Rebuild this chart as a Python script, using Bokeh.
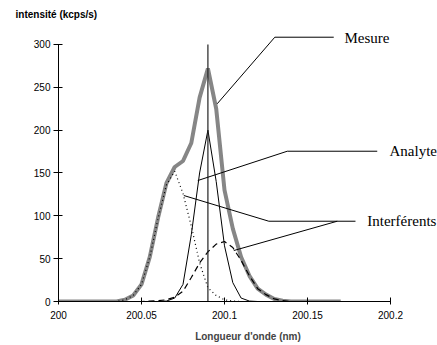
from bokeh.plotting import figure
from bokeh.models import FixedTicker, Label, Range1d, Title
from bokeh.embed import file_html
from bokeh.resources import INLINE

# ---- data ----
wavelength = [200.000, 200.005, 200.010, 200.015, 200.020, 200.025, 200.030,
              200.035, 200.040, 200.045, 200.050, 200.055, 200.060, 200.065,
              200.070, 200.075, 200.080, 200.085, 200.090, 200.095, 200.100,
              200.105, 200.110, 200.115, 200.120, 200.125, 200.130, 200.135,
              200.140, 200.145, 200.150, 200.155, 200.160, 200.165, 200.170]
mesure = [0, 0, 0, 0, 0, 0, 0,
          0, 2, 7, 20, 52, 98, 138,
          157, 164, 185, 238, 272, 225, 130,
          85, 52, 30, 15, 8, 3, 1,
          0, 0, 0, 0, 0, 0, 0]
analyte = [0, 0, 0, 0, 0, 0, 0,
           0, 0, 0, 0, 0, 0, 0.5,
           4, 20, 78, 150, 200, 140, 65,
           22, 4, 0.5, 0, 0, 0, 0,
           0, 0, 0, 0, 0, 0, 0]
interferent1 = [0, 0, 0, 0, 0, 0, 0,
                0, 2, 7, 20, 52, 97, 136,
                152, 126, 88, 45, 16, 7, 2,
                0.5, 0, 0, 0, 0, 0, 0,
                0, 0, 0, 0, 0, 0, 0]
interferent2 = [0, 0, 0, 0, 0, 0, 0,
                0, 0, 0, 0, 0.5, 1, 2,
                5, 12, 28, 45, 58, 67, 70,
                63, 48, 30, 15, 8, 3, 1,
                0, 0, 0, 0, 0, 0, 0]
line_position = 200.09
line_top = 300

x_ticks = [200, 200.05, 200.1, 200.15, 200.2]
x_tick_labels = ["200", "200.05", "200.1", "200.15", "200.2"]
y_ticks = [0, 50, 100, 150, 200, 250, 300]

# ---- figure ----
p = figure(width=437, height=345, output_backend="svg", toolbar_location=None,
           x_range=Range1d(200, 200.2283), y_range=Range1d(0, 328.0),
           min_border_left=58, min_border_right=0, min_border_top=20,
           min_border_bottom=44)
p.outline_line_color = None
p.grid.visible = False
p.background_fill_color = "white"
p.border_fill_color = "white"

p.title = Title(text="intensité (kcps/s)", align="left", offset=-43,
                standoff=2, text_font="Liberation Sans",
                text_font_size="10px", text_font_style="bold",
                text_color="black")

# curves
p.line(wavelength, mesure, line_color="#868686", line_width=4)
p.line(wavelength, analyte, line_color="black", line_width=1)
p.line(wavelength, interferent1, line_color="black", line_width=1.2,
       line_dash="1 3")
p.line(wavelength, interferent2, line_color="black", line_width=1.2,
       line_dash="6 4")
p.segment(x0=[line_position], y0=[0], x1=[line_position], y1=[line_top],
          line_color="#222222", line_width=1.2)

# leader lines (annotations)
leader_color = "black"
p.line([200.0956, 200.1303, 200.1658], [230.8, 308.5, 308.5],
       line_color=leader_color, line_width=1)
p.line([200.0839, 200.1378, 200.1920], [141.2, 175.4, 175.4],
       line_color=leader_color, line_width=1)
p.line([200.0755, 200.1267, 200.1789], [123.7, 93.7, 93.7],
       line_color=leader_color, line_width=1)
p.line([200.1056, 200.1679], [59.5, 93.7],
       line_color=leader_color, line_width=1)

serif = "Liberation Serif"
for txt, lx, ly in [("Mesure", 200.1723, 307.0),
                    ("Analyte", 200.1994, 175.7),
                    ("Interférents", 200.1860, 94.0)]:
    p.add_layout(Label(x=lx, y=ly, text=txt, text_font=serif,
                       text_font_size="15px", text_baseline="middle",
                       text_align="left", text_color="black"))

# axes
xa = p.xaxis[0]
xa.ticker = FixedTicker(ticks=x_ticks)
xa.major_label_overrides = {t: l for t, l in zip(x_ticks, x_tick_labels)}
xa.bounds = (200, 200.2)
xa.minor_tick_line_color = None
xa.major_tick_in = 4
xa.major_tick_out = 3
xa.major_label_standoff = 6
xa.axis_label = "Longueur d'onde (nm)"
xa.axis_label_text_font = "Liberation Sans"
xa.axis_label_text_font_size = "10px"
xa.axis_label_text_font_style = "bold"
xa.axis_label_standoff = 9
xa.major_label_text_font = "Liberation Sans"
xa.major_label_text_font_size = "10px"
xa.major_label_text_color = "black"
xa.axis_line_color = "black"
xa.major_tick_line_color = "black"

ya = p.yaxis[0]
ya.ticker = FixedTicker(ticks=y_ticks)
ya.bounds = (0, 300)
ya.minor_tick_line_color = None
ya.major_tick_in = 4
ya.major_tick_out = 5
ya.major_label_standoff = 3
ya.major_label_text_font = "Liberation Sans"
ya.major_label_text_font_size = "10px"
ya.major_label_text_color = "black"
ya.axis_line_color = "black"
ya.major_tick_line_color = "black"

open("out.html", "w").write(file_html(p, INLINE))
